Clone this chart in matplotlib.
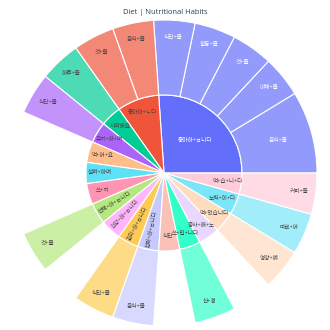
import colorsys
import matplotlib
matplotlib.use("Agg")
import matplotlib.pyplot as plt
from matplotlib.patches import Wedge
import numpy as np

plt.rcParams['font.family'] = ['Noto Sans CJK KR', 'DejaVu Sans']

title = "Diet | Nutritional Habits"

# inner ring (counter-clockwise from 3 o'clock)
parents = ["좋아하+ㅂ니다", "좋아하+ㄴ다", "시작해요", "유지+하+며", "먹+어+요",
           "살펴+하며", "쓰+지", "선택+하+ㅂ니다", "건강+하+ㅂ니다", "관리+하+ㅂ니다",
           "섭취+하+ㅂ니다", "식단", "쓰+입+니다", "중사+해+노", "먹+었습니다",
           "노력+이+다", "먹+습+니+다"]
parent_values = [6, 2, 1, 1, 1, 1, 1, 1, 1, 1, 1, 1, 1, 1, 1, 1, 1]

# outer ring
child_labels = [["음식+물", "야채+물", "것+물", "활동+물", "식단+물"],
                ["음식+물", "것+물"],
                ["하루+들"],
                ["식단+물"],
                [], [], [],
                ["것+물"],
                [],
                ["식단+물"],
                ["음식+물"],
                [],
                ["산+경"],
                [],
                ["영양+예"],
                ["따르+어"],
                ["커피+들"]]
child_values = [[2, 1, 1, 1, 1],
                [1, 1],
                [1],
                [1],
                [], [], [],
                [1],
                [],
                [1],
                [1],
                [],
                [1],
                [],
                [1],
                [1],
                [1]]

colorway = ['#636efa', '#EF553B', '#00cc96', '#ab63fa', '#FFA15A',
            '#19d3f3', '#FF6692', '#B6E880', '#FF97FF', '#FECB52']


def lighten(hexc, amt=0.2):
    r, g, b = matplotlib.colors.to_rgb(hexc)
    h, l, s = colorsys.rgb_to_hls(r, g, b)
    return colorsys.hls_to_rgb(h, min(1, l + amt), s)


def blend(c, a=0.7):
    rgb = np.array(matplotlib.colors.to_rgb(c))
    return tuple(rgb * a + (1 - a))


colors = [matplotlib.colors.to_rgb(c) for c in colorway] + [lighten(c) for c in colorway]

fig = plt.figure(figsize=(3.3, 3.3), dpi=100)
ax = fig.add_axes([0, 0, 1, 1])
ax.set_xlim(0, 330)
ax.set_ylim(0, 330)
ax.set_aspect('equal')
ax.axis('off')

cx, cy = 164, 157
r_in, r_out = 78, 153
total = sum(parent_values)
unit = 360.0 / total
fs = 4.1
dark = '#444444'


def text_color(c):
    r, g, b = [v * 255 for v in matplotlib.colors.to_rgb(c)]
    return 'white' if (r * 299 + g * 587 + b * 114) / 1000 < 128 else dark


def put_text(label, t1, t2, r, radial, col):
    m = (t1 + t2) / 2
    x = cx + r * np.cos(np.radians(m))
    y = cy + r * np.sin(np.radians(m))
    rot = 0
    if radial:
        rot = m - 180 if 90 < m < 270 else m
    ax.text(x, y, label, ha='center', va='center', rotation=rot,
            rotation_mode='anchor', fontsize=fs, color=col)


cum = 0
for i, (lab, val) in enumerate(zip(parents, parent_values)):
    t1 = cum * unit
    t2 = (cum + val) * unit
    base = colors[i]
    has_kids = len(child_labels[i]) > 0
    fc = base if has_kids else blend(base)
    ax.add_patch(Wedge((cx, cy), r_in, t1, t2, width=r_in, facecolor=fc,
                       edgecolor='white', linewidth=0.8))
    span = t2 - t1
    radial = len(lab) >= 8
    if span > 60:
        r = 45
    elif radial:
        r = 57
    else:
        r = 64
    put_text(lab, t1, t2, r, radial, text_color(base))
    ccum = cum
    for cl, cv in zip(child_labels[i], child_values[i]):
        c1 = ccum * unit
        c2 = (ccum + cv) * unit
        ax.add_patch(Wedge((cx, cy), r_out, c1, c2, width=r_out - r_in,
                           facecolor=blend(base), edgecolor='white', linewidth=0.8))
        rr = 119 if (c2 - c1) > 25 else 136
        put_text(cl, c1, c2, rr, False, text_color(base))
        ccum += cv
    cum += val

ax.text(165, 318, title, ha='center', va='center', fontsize=5.4,
        color='#2a3f5f', family=['Open Sans', 'DejaVu Sans'])

fig.savefig('out.png', dpi=100)
